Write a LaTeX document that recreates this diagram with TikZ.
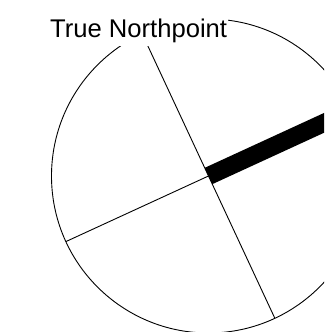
\documentclass[tikz,border=0pt]{standalone}
\usepackage{fontspec}
\setmainfont{Liberation Sans}
\begin{document}
\begin{tikzpicture}[x=1pt,y=1pt,
  thinline/.style={line width=0.9pt},
  pointer/.style={line width=18pt},
  label/.style={fill=white, inner xsep=1pt, inner ysep=3pt, anchor=base west,
    font=\fontsize{25.6}{30}\selectfont}]
\useasboundingbox (0,0) rectangle (324,332);
\clip (0,0) rectangle (324,332);
\coordinate (c) at (208.5,156);
\path (c) ++(115:157) coordinate (n);
\path (c) ++(-65:157) coordinate (s);
\path (c) ++(204.7:157) coordinate (w);
\path (c) ++(24.7:157) coordinate (e);
\draw[thinline] (c) circle (157);
\draw[thinline] (n) -- (s);
\draw[thinline] (c) -- (w);
\draw[pointer] (c) -- (e);
\node[label] (t) at (49,294.3) {True Northpoint};
\end{tikzpicture}
\end{document}
